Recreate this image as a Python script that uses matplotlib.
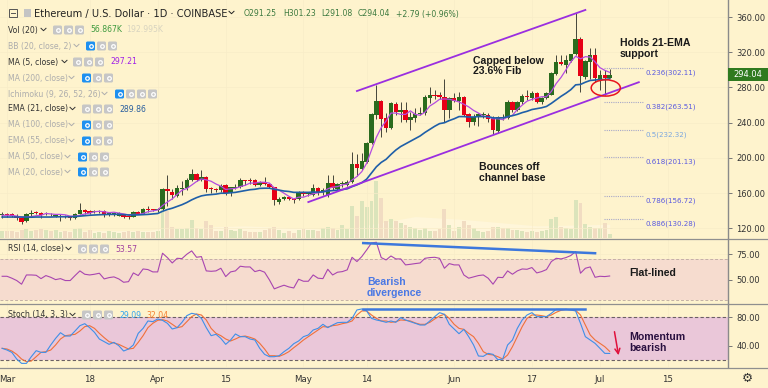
import matplotlib
matplotlib.use("Agg")
import matplotlib.pyplot as plt
import numpy as np
from matplotlib.patches import Ellipse, FancyBboxPatch, Rectangle

# ETH/USD daily chart, Feb 28 to Jul 3: candles, MA5, EMA21, volume, RSI, Stoch.
opens = [
    135, 136, 136, 134, 132, 128, 137, 138, 138, 136, 137, 134.5, 133.5, 134, 133.5, 132,
    136.8, 141, 140, 138.5, 139, 140, 136, 135, 134.5, 136, 134.5, 133, 139, 137, 141.5, 141.5, 141.5,
    142, 165, 161.8, 157, 165, 166, 175, 181.4, 175, 178.8, 165.5, 164.8, 163.6, 169, 160, 166,
    167.4, 175, 175, 175, 169, 172.3, 171, 166.7, 150.4, 153, 156, 154, 153, 161, 158.7,
    158, 165.6, 161.8, 158, 171.5, 164.5, 170.5, 169, 173, 193.2, 187.2, 196, 217.4, 248.8, 264.7,
    245, 233.7, 261, 252.6, 254.5, 243, 245, 250, 250.7, 268.5, 271.5, 271.5, 268.9, 254.5, 267.7,
    265, 269.6, 250, 241, 247, 248.5, 249, 245, 231, 247, 245, 263, 254.5, 263, 269.6, 267.7,
    274, 263, 268.5, 272, 295, 308.5, 306, 310, 317.6, 335, 292, 309.3, 317, 289.6, 294, 291.25,
]
highs = [
    139, 138, 137.5, 136, 133, 138, 141, 140, 139, 139, 138, 137, 136, 135, 134, 138,
    148.5, 142, 141, 140.5, 141, 141, 138.5, 139, 138.5, 137, 135, 140, 140, 143.5, 145, 142, 143,
    166, 180.7, 165, 169, 174, 177, 188, 182.5, 186, 179, 167, 166.5, 170.5, 170, 167.4, 171,
    177, 175, 177, 175.7, 174, 178, 172, 167, 156, 156.8, 157, 155, 162, 162.5, 161,
    171, 167, 166, 181, 180.7, 172, 173.5, 175, 207, 205, 206, 218, 251, 282.9, 265.5,
    250.7, 264, 264, 264, 264, 252, 256.4, 258.3, 272, 280.2, 277, 275.3, 289.3, 269.6, 274,
    275.3, 270, 250.5, 250, 251, 252.5, 251, 248, 248, 250, 265.5, 265, 265, 273, 277, 276,
    275, 269.5, 275, 297.5, 317, 317, 317, 318, 364, 337.7, 311, 325, 325, 300, 300, 301.23,
]
lows = [
    132, 133, 133, 130, 125, 127, 134, 136, 132, 135, 134, 133, 128, 131.5, 130, 131,
    136, 137, 137, 137.5, 138, 133, 134.5, 134, 134, 132, 131, 132.5, 136, 136.5, 138.5, 139.5, 139,
    141.5, 145, 153.5, 156, 158, 164, 174, 174, 173.5, 161, 160, 161.7, 161.7, 158, 156.9, 164.4,
    165.5, 169, 170, 168, 168, 169, 165.5, 146.6, 147.8, 152.3, 152.5, 149, 152.3, 157, 157,
    157, 158, 158, 156, 164, 163, 167, 168, 172, 179, 186, 194, 216, 244, 224,
    229.9, 232.6, 249, 241, 241, 232, 241, 248.8, 248.8, 262, 266.6, 267, 241, 245, 264,
    254.5, 247.7, 235.6, 237.5, 236, 245.5, 241, 227, 228, 243, 244, 252, 253, 261.7, 266, 266,
    262, 261, 267, 271, 294, 305.5, 296, 309, 317, 274.5, 290, 289.6, 286.6, 277, 272, 291.08,
]
closes = [
    136, 135.5, 134, 131.5, 127, 137, 138, 137.5, 135, 137, 136, 135.5, 134.5, 133, 131.5, 137,
    141.5, 139, 138, 139, 139.5, 136.5, 137.5, 138, 137.5, 133.5, 132.5, 139, 137, 142, 141, 141, 142,
    164.8, 162, 158, 166, 166, 175, 181.4, 175, 178.8, 165, 164.4, 164, 168, 160, 166.7, 167,
    175, 174, 174.2, 169, 173, 171, 166.7, 152.3, 153.4, 156, 153.4, 152.3, 161, 158.7, 159.8,
    165.6, 161.8, 163.5, 172, 165.6, 170.5, 171.5, 173, 193.2, 188.3, 196.6, 217.4, 250, 265, 244.3,
    233.7, 262, 252, 254.5, 243, 247, 250, 251.5, 268.9, 271.5, 270.8, 269.6, 254.5, 267.7, 265,
    269.6, 248.8, 240.5, 247, 250, 250, 244.5, 232, 246, 245, 264, 254.5, 264, 270.7, 269, 273.4,
    264, 268.5, 273.4, 297, 308.5, 307, 311, 317.6, 335, 293, 310, 317, 290.4, 294, 290.4, 294.04,
]
volumes = [
    98, 98, 98, 84, 112, 126, 98, 112, 126, 112, 98, 112, 84, 98, 84, 126, 140, 84, 112, 70,
    84, 70, 98, 84, 70, 84, 98, 84, 98, 84, 84, 84, 98,
    420, 378, 154, 126, 126, 140, 252, 140, 126, 238, 182, 98, 98, 154, 112, 98, 126, 98, 84, 84,
    84, 112, 140, 154, 112, 70, 98, 70, 112, 126, 112,
    112, 98, 140, 154, 140, 112, 182, 126, 448, 308, 518, 434, 518, 798, 560, 238, 266, 238, 210,
    182, 154, 140, 112, 140, 98, 98, 126, 406, 182, 98, 154, 238, 182, 140, 98, 84, 98, 154, 154,
    140, 140, 112, 112, 98, 84, 98, 84, 98, 112, 266, 294, 154, 140, 126, 532, 490, 196, 154, 140,
    140, 210, 56.867,
]
ma5 = [
    135, 135, 135, 134, 133, 133, 133.5, 134.5, 135, 137, 136.5, 136, 136, 135.5, 134, 134,
    135, 136.5, 137.5, 139, 139.5, 139, 138, 138.5, 137.5, 136.5, 135.5, 136, 136, 137, 139, 140, 141,
    146, 150, 153.6, 158.6, 163.4, 165.4, 169.3, 173.3, 176.2, 175.2, 173.6, 170.5, 168, 164.3, 165, 165.5,
    167.5, 169, 171.5, 171.5, 172.5, 172.5, 171.5, 166, 163.5, 160, 156.5, 153.5, 155.5, 155.5, 157.5,
    159.5, 160.5, 161.5, 165, 167, 167.5, 169.5, 170.5, 175, 179, 184.5, 194, 209, 223.5, 234.5,
    242, 251, 251, 249.5, 249.5, 253.5, 249.5, 248.5, 252, 259, 262.5, 266.6, 267, 266.7, 265.3,
    263.6, 261, 258, 254, 251, 247.5, 246.5, 244.5, 244.5, 243.5, 246.5, 248.5, 255, 260, 264.5, 266.5,
    268, 269.5, 269.5, 275.5, 284.5, 291.5, 300, 309, 315.5, 312.5, 315, 314.5, 309, 302.5, 299.5, 297.21,
]
ema21 = [
    133, 133, 133, 133, 133, 132.8, 132.8, 133, 133, 133, 133, 133.2, 133.3, 133.3, 133.3, 133.5,
    134, 134.5, 135, 135.3, 135.6, 135.8, 136, 136, 136, 135.8, 135.3, 135.3, 135.4, 135.7, 136, 136.5, 137,
    139.5, 141.5, 143, 145, 147, 149.5, 152.5, 155, 157, 158, 158.5, 159, 160, 160, 160.5, 161,
    162, 163, 164, 164.5, 165.5, 165.7, 165.7, 164.5, 163.5, 162.5, 162, 161, 161, 161, 161,
    161.3, 161.3, 161.5, 162.5, 163, 163.5, 164.2, 165, 167.5, 169.5, 172, 176, 183, 190, 195,
    198.5, 204, 209, 213, 216, 219, 222, 225, 229, 232.5, 236, 239, 240, 242.5, 244.5,
    247, 247, 246.5, 246.5, 247, 247, 247, 245.5, 245.5, 245.5, 247, 248, 249.5, 251.5, 253, 255,
    256, 257, 258.5, 262, 266, 270, 273.5, 277.5, 283, 283.5, 286, 288, 288.5, 289, 289, 289.86,
]
rsi = [
    53.3, 53.3, 51.4, 49.1, 45.5, 54.6, 54.6, 54.3, 51, 54, 52.3, 50, 51, 49.1, 49.1, 54,
    58.6, 55.3, 54.6, 55.3, 56.3, 50.7, 52, 52.7, 50.7, 47.4, 48, 56.6, 54, 60.5, 59.9, 57.6, 57.6,
    76, 71.7, 66.4, 71, 70.7, 75, 78.3, 72, 72.7, 58.6, 58.2, 58.6, 61.2, 53, 57.6, 58.6,
    63.2, 62.5, 62.5, 57.9, 59.2, 57.3, 49.7, 40.9, 42.8, 44.5, 42.8, 41.8, 50.4, 48.4, 48.4,
    54.6, 51.4, 51, 60.2, 54.6, 57.3, 57.9, 59.6, 72, 67.8, 72.7, 79.2, 86.1, 86.8, 71.7,
    69.4, 73.3, 70.4, 70.4, 64.5, 65.1, 65.8, 66.4, 71, 71.7, 72, 71, 61.2, 65.8, 64.5,
    64.5, 54.6, 51.4, 52.7, 54, 54.6, 51.4, 45.5, 52.3, 52, 58.6, 55.3, 58.6, 60.5, 60.2, 61.9,
    56.6, 57.9, 59.9, 67.8, 71, 70.4, 71.7, 73.7, 77.6, 56.3, 61.2, 62.5, 52.3, 53.3, 53, 53.57,
]
stoch_k = [
    36.3, 33.9, 30.6, 21.2, 15.1, 15.1, 24.5, 33, 30.6, 30.6, 41, 50.3, 58.3, 53.6, 53.6, 60.7,
    68.2, 71, 65.4, 58.8, 49.4, 45.7, 41.9, 44.7, 40, 32.5, 35.3, 41, 57.4, 64.4, 74.8, 73.8, 77.6,
    75.7, 71.5, 63.5, 65.4, 72.9, 82.3, 85.6, 84.2, 78.5, 65.4, 54.1, 56, 50.3, 41.9, 48, 56.5,
    52.7, 52.7, 49.4, 48, 36.3, 27.8, 24.5, 24.5, 25.9, 31.6, 36.3, 42.8, 46.6, 52.7, 55.1,
    62.1, 64.4, 70.1, 65.4, 69.1, 72.4, 72.9, 72.9, 78.5, 90.3, 91.7, 88.9, 78.5, 76.2, 74.8,
    72.9, 74.8, 72.9, 79.5, 76.2, 73.8, 71.5, 69.1, 69.1, 74.8, 80.9, 86.5, 84.2, 70.1, 63.5,
    56.9, 63, 52.7, 41, 25.5, 25, 29.2, 27.8, 20.3, 21.2, 41, 48, 64.4, 76.2, 83.2, 86.5,
    80.9, 80.9, 80.9, 85.6, 91.2, 91.2, 91.2, 90.3, 88.9, 71.5, 52.7, 48, 43.3, 36.3, 29.2, 29.09,
]
stoch_d = [
    36.3, 35.3, 32.5, 27.8, 21.2, 17.5, 18.4, 24.5, 30.6, 31.6, 33.9, 41, 49.4, 54.1, 55.1, 56,
    60.7, 66.8, 68.2, 64.4, 57.4, 51.3, 45.7, 43.8, 41.9, 38.6, 35.3, 36.3, 44.7, 54.1, 65.4, 71.5, 75.7,
    76.6, 74.8, 70.1, 65.4, 66.8, 73.8, 80.9, 84.6, 83.2, 76.2, 64.4, 57.4, 54.1, 49.4, 46.6, 49.4,
    52.7, 53.6, 51.8, 49.4, 43.3, 35.3, 25.9, 25.9, 25, 27.8, 31.6, 37.2, 42.4, 48, 52.7,
    57.4, 62.1, 66.8, 66.3, 68.2, 69.1, 71, 72.4, 74.8, 83.2, 88.9, 88.9, 83.2, 78.5, 74.8,
    74.8, 72.9, 73.8, 76.2, 75.7, 74.8, 72, 70.1, 70.1, 72.9, 77.6, 81.8, 84.2, 78.5, 70.1,
    64.4, 63, 57.4, 52.7, 43.3, 31.6, 27.8, 26.9, 24.5, 21.2, 26.9, 38.6, 52.7, 66.8, 78.5, 83.2,
    83.2, 82.3, 80.9, 83.2, 87, 89.8, 91.2, 90.7, 89.8, 83.2, 69.1, 55.1, 48, 43.3, 38.6, 32.04,
]
vol_ma_days = [0, 30, 33, 50, 70, 75, 85, 95, 110, 125]
vol_ma_vals = [100, 105, 140, 170, 115, 180, 300, 260, 170, 192.995]

tick_days = [1, 18, 32, 46, 62, 75, 93, 109, 123, 137]
tick_labels = ["Mar", "18", "Apr", "15", "May", "14", "Jun", "17", "Jul", "15"]
price_ticks = [120, 160, 200, 240, 280, 320, 360]
rsi_ticks = [50, 75]
stoch_ticks = [40, 80]
fib_ratios = ["0.236", "0.382", "0.5", "0.618", "0.786", "0.886"]
fib_prices = [302.11, 263.51, 232.32, 201.13, 156.72, 130.28]
fib_label_y = [73, 107, 135, 162, 201, 224]
channel_days = [[73, 120], [63, 131]]
channel_prices = [[276, 368], [150, 286]]
ohlc_text = ["O291.25", "H301.23", "L291.08", "C294.04", "+2.79 (+0.96%)"]
ohlc_x = [244, 283, 321, 358, 396]

bg = "#fef3cd"
green = "#2a6b1e"
red = "#e60016"
W, H = 768, 388


def pane(top, bottom):
    return [0, 1 - bottom / H, 728 / W, (bottom - top) / H]


def style_pane(ax, ylim, ticks):
    ax.set_xlim(-0.44, 149.35)
    ax.set_ylim(*ylim)
    ax.set_facecolor(bg)
    ax.yaxis.tick_right()
    ax.set_yticks(ticks)
    ax.set_yticklabels([f"{t:.2f}" for t in ticks])
    ax.tick_params(axis="y", length=3, width=0.7, color="#777777", labelsize=6,
                   labelcolor="#333333", pad=3)
    ax.set_xticks(tick_days)
    ax.tick_params(axis="x", length=0, labelbottom=False)
    ax.grid(color="#f8ecc8", linewidth=0.5)
    ax.set_axisbelow(True)
    for s in ("top", "left", "bottom"):
        ax.spines[s].set_visible(False)
    ax.spines["right"].set_color("#8a8a8a")
    ax.spines["right"].set_linewidth(1.0)


def icons(ov, x, y, n=3, blue=False):
    for k in range(n):
        x0 = x + 11 * k
        col = "#1e90f0" if (blue and k == 0) else "#c6c6c6"
        ov.add_patch(FancyBboxPatch((x0 + 1, y - 3.5), 7, 7, boxstyle="round,pad=1,rounding_size=1.5",
                                    fc=col, ec="none", zorder=6))
        ov.plot([x0 + 4.5], [y], "o", ms=2.6, mfc="none", mec="white", mew=0.9, zorder=7)


def chevron(ov, x, y, col):
    ov.plot([x, x + 2.5, x + 5], [y - 1.2, y + 1.2, y - 1.2], color=col, lw=0.7, zorder=7)


def main():
    fig = plt.figure(figsize=(W / 100, H / 100), dpi=100, facecolor=bg)
    days = np.arange(len(closes))
    o, h, l, c = map(np.array, (opens, highs, lows, closes))
    up = c >= o

    # volume sits behind the candles in the price pane
    ax_vol = fig.add_axes(pane(0, 238))
    ax_vol.set_xlim(-0.44, 149.35)
    ax_vol.set_ylim(0, 3332)
    ax_vol.axis("off")
    ax_vol.fill_between(vol_ma_days, vol_ma_vals, color="#fff6da", lw=0)
    ax_vol.bar(days, volumes, width=0.8, color=["#dbe4bb" if u else "#f1dcc2" for u in up])

    ax = fig.add_axes(pane(0, 238))
    style_pane(ax, (109.2, 379.3), price_ticks)
    ax.patch.set_alpha(0)
    ax.vlines(days, l, h, color="#45453a", lw=0.7, zorder=3)
    ax.bar(days, np.abs(c - o).clip(0.9), bottom=np.minimum(o, c), width=0.92,
           color=[green if u else red for u in up], linewidth=0, zorder=4)
    ax.plot(days, ma5, color="#b44be0", lw=0.9, zorder=5)
    ax.plot(days, ema21, color="#1f5fa8", lw=1.2, zorder=5)
    for xs, ys in zip(channel_days, channel_prices):
        ax.plot(xs, ys, color="#9a2ee0", lw=1.3, zorder=6)
    ax.hlines(fib_prices, 123.8, 131.9, color="#a8a8c8", lw=0.8, linestyles=(0, (1, 1)), zorder=3)
    ax.add_patch(Ellipse((124.2, 279.5), 6, 18.5, fc="none", ec="#e8141c", lw=1.1, zorder=7))

    ax_rsi = fig.add_axes(pane(238.5, 304))
    style_pane(ax_rsi, (26, 90.5), rsi_ticks)
    ax_rsi.axhspan(30, 70, color="#f6dccf", lw=0, zorder=1)
    for lev in (30, 70):
        ax_rsi.axhline(lev, color="#c4b0a6", lw=0.7, ls=(0, (3, 2)), zorder=2)
    ax_rsi.plot(days, rsi, color="#a845b0", lw=0.8, zorder=3)
    ax_rsi.plot([74.3, 122], [86, 76], color="#3d78dc", lw=1.8, zorder=4)

    ax_st = fig.add_axes(pane(304, 367))
    style_pane(ax_st, (10, 98.7), stoch_ticks)
    ax_st.axhspan(20, 80, color="#eac7d9", lw=0, zorder=1)
    for lev in (20, 80):
        ax_st.axhline(lev, color="#6b6064", lw=0.8, ls=(0, (3, 2)), zorder=2)
    ax_st.plot(days, stoch_d, color="#f0703a", lw=0.8, zorder=3)
    ax_st.plot(days, stoch_k, color="#3f8fe8", lw=0.8, zorder=4)
    ax_st.plot([74.3, 120], [91.7, 91.7], color="#3d78dc", lw=1.8, zorder=5)
    ax_st.tick_params(axis="x", labelbottom=True, labelsize=6.2, labelcolor="#333333", pad=6)
    ax_st.set_xticklabels(tick_labels)

    # pixel overlay for the legend column and the hand-drawn notes
    ov = fig.add_axes([0, 0, 1, 1])
    ov.set_xlim(0, W)
    ov.set_ylim(H, 0)
    ov.axis("off")
    ov.patch.set_alpha(0)

    for yy in (238.5, 304, 367.5):
        ov.plot([0, 768], [yy, yy], color="#8f8f8f", lw=0.9, zorder=2)

    ov.add_patch(Rectangle((8.5, 9), 8, 8, fc="none", ec="#555555", lw=0.7))
    ov.plot([10.5, 14.5], [13, 13], color="#555555", lw=0.7)
    ov.add_patch(Rectangle((24, 9), 7, 8, fc="#c4c4c4", ec="none"))
    ov.text(34, 13.5, "Ethereum / U.S. Dollar · 1D · COINBASE", fontsize=7.15, color="#222222", va="center")
    chevron(ov, 229, 12.5, "#222222")
    for s, xx in zip(ohlc_text, ohlc_x):
        ov.text(xx, 14, s, fontsize=5.6, color="#3d7a40", va="center")

    rows = [
        ("Vol (20)", True, 41, 53, 3, False, 30),
        ("BB (20, close, 2)", False, 74, 86, 3, True, 46),
        ("MA (5, close)", True, 62, 73, 3, False, 62),
        ("MA (200, close)", False, 69, 82, 3, True, 78),
        ("Ichimoku (9, 26, 52, 26)", False, 102, 115, 4, True, 94),
        ("EMA (21, close)", True, 70, 82, 3, False, 109),
        ("MA (100, close)", False, 69, 82, 3, True, 125),
        ("EMA (55, close)", False, 69, 82, 3, True, 141),
        ("MA (50, close)", False, 65, 78, 3, True, 157),
        ("MA (20, close)", False, 65, 78, 3, True, 172),
        ("RSI (14, close)", True, 66, 78, 3, False, 249),
        ("Stoch (14, 3, 3)", True, 70, 82, 3, False, 315),
    ]
    for name, on, cx, ix, n, blue, yy in rows:
        col = "#333333" if on else "#adadad"
        ov.text(8, yy, name, fontsize=5.6, color=col, va="center", zorder=7)
        chevron(ov, cx, yy - 0.5, col)
        icons(ov, ix, yy, n, blue)
    ov.text(90, 30, "56.867K", fontsize=5.6, color="#3f9a3f", va="center")
    ov.text(126, 30, "192.995K", fontsize=5.6, color="#d8d4c0", va="center")
    ov.text(110, 62, "297.21", fontsize=5.6, color="#a020e8", va="center")
    ov.text(119, 109, "289.86", fontsize=5.6, color="#2a5f9e", va="center")
    ov.text(115, 249, "53.57", fontsize=5.6, color="#a040a0", va="center")
    ov.text(119, 315, "29.09", fontsize=5.6, color="#30a4f0", va="center", zorder=7)
    ov.text(146, 315, "32.04", fontsize=5.6, color="#f57f30", va="center", zorder=7)

    for ratio, p, yy in zip(fib_ratios, fib_prices, fib_label_y):
        col = "#7aa6e0" if ratio == "0.5" else "#5a5ae0"
        ov.text(646, yy, f"{ratio}({p:.2f})", fontsize=5.1, color=col, va="center")

    ov.add_patch(Rectangle((728, 68), 40, 13, fc="#2f7a1f", ec="none", zorder=6))
    ov.text(748, 74.5, "294.04", fontsize=6, color="white", ha="center", va="center", zorder=7)

    note = dict(family="Liberation Sans", fontweight="bold", fontsize=7.6, color="#1a1a1a",
                va="center")
    ov.text(473, 60.5, "Capped below", **note)
    ov.text(473, 71, "23.6% Fib", **note)
    ov.text(620, 43, "Holds 21-EMA", **note)
    ov.text(620, 54, "support", **note)
    ov.text(479, 167, "Bounces off", **note)
    ov.text(479, 178, "channel base", **note)
    ov.text(629, 273, "Flat-lined", **note)
    ov.text(629, 337, "Momentum", **{**note, "color": "#2a1040"})
    ov.text(629, 348, "bearish", **{**note, "color": "#2a1040"})
    blue_note = {**note, "color": "#4a78e4"}
    ov.text(367, 282, "Bearish", **blue_note)
    ov.text(367, 293, "divergence", **blue_note)
    ov.annotate("", xy=(619, 358), xytext=(614, 329),
                arrowprops=dict(arrowstyle="->", color="#e0103c", lw=1.1, mutation_scale=9))
    ov.text(747, 378, "⚙", fontsize=9, color="#333333", ha="center", va="center")

    fig.savefig("out.png", dpi=100, facecolor=bg)
    plt.close(fig)


if __name__ == "__main__":
    main()
